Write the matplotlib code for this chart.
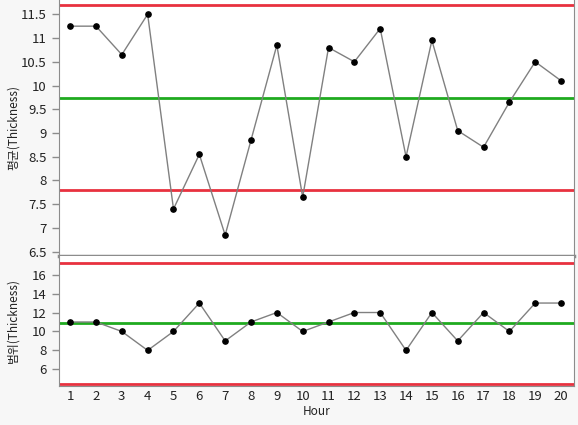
import matplotlib
matplotlib.use("Agg")
import matplotlib.pyplot as plt

hours = list(range(1, 21))
means = [11.25, 11.25, 10.65, 11.5, 7.4, 8.55, 6.85, 8.85, 10.85, 7.65,
         10.8, 10.5, 11.2, 8.5, 10.95, 9.05, 8.7, 9.65, 10.5, 10.1]
ranges = [11, 11, 10, 8, 10, 13, 9, 11, 12, 10,
          11, 12, 12, 8, 12, 9, 12, 10, 13, 13]
mean_limits = {"UCL": 11.69, "CL": 9.7375, "LCL": 7.79}
range_limits = {"UCL": 17.25, "CL": 10.85, "LCL": 4.46}
mean_yticks = [6.5, 7, 7.5, 8, 8.5, 9, 9.5, 10, 10.5, 11, 11.5]
mean_yticklabels = ["6.5", "7", "7.5", "8", "8.5", "9", "9.5", "10", "10.5", "11", "11.5"]
range_yticks = [6, 8, 10, 12, 14, 16]

W, H = 578, 425
fig = plt.figure(figsize=(W / 100, H / 100), dpi=100)
fig.patch.set_facecolor("#f7f7f7")

left = 58.5 / W
right = 574 / W
sep = 255.7
ax1 = fig.add_axes([left, 1 - sep / H, right - left, sep / H])
ax2 = fig.add_axes([left, 1 - 386 / H, right - left, (386 - sep) / H])

RED = "#e8313f"
GREEN = "#1faa1f"
SPINE = "#8c8c8c"
font = ["Noto Sans CJK KR", "DejaVu Sans"]

for ax, vals, lim in ((ax1, means, mean_limits), (ax2, ranges, range_limits)):
    ax.set_facecolor("white")
    ax.axhline(lim["UCL"], color=RED, lw=2, zorder=2)
    ax.axhline(lim["LCL"], color=RED, lw=2, zorder=2)
    ax.axhline(lim["CL"], color=GREEN, lw=2, zorder=2)
    ax.plot(hours, vals, color="#808080", lw=1, zorder=3)
    ax.plot(hours, vals, "o", color="black", ms=3.8, zorder=4)
    ax.set_xlim(0.55, 20.5)
    for s in ax.spines.values():
        s.set_color(SPINE)
    ax.tick_params(axis="y", colors=SPINE, length=5, width=1, labelcolor="#222222",
                   labelsize=9.5)

ax1.set_ylim(6.416, 11.801)
ax1.set_yticks(mean_yticks)
ax1.set_yticklabels(mean_yticklabels, family=font)
ax1.spines["top"].set_visible(False)
ax1.spines["bottom"].set_linewidth(2.5)
ax1.spines["bottom"].set_zorder(5)
ax1.set_xticks([])
ax1.set_ylabel("평균(Thickness)", family=font, fontsize=8.5, color="#222222")
ax1.yaxis.set_label_coords(-0.075, 0.5)

ax2.set_ylim(4.24, 18.0)
ax2.set_yticks(range_yticks)
ax2.set_yticklabels([str(v) for v in range_yticks], family=font)
ax2.spines["top"].set_visible(False)
ax2.set_xticks(hours)
ax2.set_xticklabels([str(h) for h in hours], family=font)
ax2.tick_params(axis="x", length=0, labelsize=9.5, labelcolor="#222222", pad=3)
ax2.set_xlabel("Hour", family=font, fontsize=8.5, color="#222222", labelpad=1)
ax2.set_ylabel("범위(Thickness)", family=font, fontsize=8.5, color="#222222")
ax2.yaxis.set_label_coords(-0.075, 0.5)

fig.savefig("out.png", dpi=100, facecolor=fig.get_facecolor())
